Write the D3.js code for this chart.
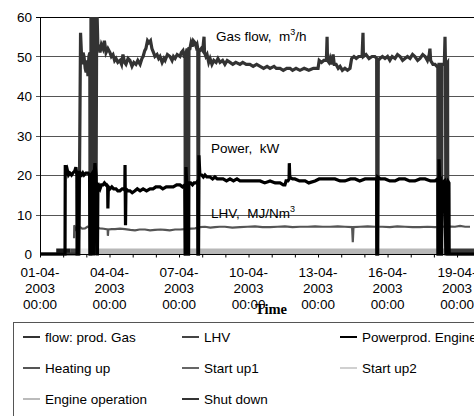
<!DOCTYPE html>
<html>
<head>
<meta charset="utf-8">
<script src="https://cdn.jsdelivr.net/npm/d3@7"></script>
<style>
  body { margin: 0; background: #fff; }
  svg { display: block; font-family: "Liberation Sans", Arial, sans-serif; }
</style>
</head>
<body>
<div id="chart"></div>
<script>
// days since 01-04-2003 00:00, value
const gasFlow = [
  [0, 0], [1.68, 0], [1.73, 40], [1.75, 56], [1.81, 48], [1.86, 51], [1.9, 50], [1.95, 47], [1.99, 46],
  [2.03, 49], [2.07, 45], [2.11, 50], [2.15, 51], [2.16, 0], [2.19, 0], [2.2, 62], [2.23, 55], [2.25, 0],
  [2.28, 62], [2.32, 52], [2.36, 64], [2.41, 0], [2.45, 64], [2.5, 52], [2.55, 53], [2.59, 51],
  [2.65, 53], [2.72, 52], [2.78, 54], [2.85, 51], [2.93, 52], [3.02, 51], [3.08, 50], [3.15, 50.5],
  [3.22, 49], [3.28, 49.5], [3.36, 48.5], [3.45, 49], [3.52, 48], [3.58, 50.5], [3.65, 48.5], [3.71, 48],
  [3.8, 49.5], [3.88, 49], [3.97, 47.5], [4.05, 48.5], [4.14, 48], [4.22, 49], [4.32, 48],
  [4.4, 49.5], [4.45, 50], [4.52, 51.5], [4.57, 52], [4.64, 54], [4.7, 53.5], [4.77, 54], [4.83, 52],
  [4.9, 51], [4.96, 50], [5.05, 50.5], [5.12, 49.5], [5.18, 50], [5.27, 48.5], [5.35, 49.5], [5.4, 49],
  [5.5, 50.5], [5.61, 50], [5.7, 49], [5.76, 50], [5.83, 49.5], [5.92, 50.5], [6.04, 50], [6.1, 51],
  [6.17, 51.5], [6.22, 50], [6.26, 50], [6.27, 0], [6.29, 0], [6.31, 51], [6.35, 52], [6.38, 51], [6.39, 0],
  [6.41, 0], [6.43, 52], [6.47, 52], [6.52, 53.5], [6.58, 52.5], [6.62, 54], [6.69, 53.5], [6.74, 52.5],
  [6.78, 53], [6.81, 52], [6.82, 0], [6.84, 0], [6.86, 52], [6.9, 51.5], [6.96, 52], [7.02, 51.5],
  [7.08, 55], [7.1, 51], [7.16, 50], [7.21, 50.5], [7.28, 48.5], [7.34, 49.5], [7.42, 48], [7.5, 49],
  [7.6, 48.5], [7.68, 49.5], [7.77, 48.5], [7.88, 49], [7.98, 48], [8.08, 49], [8.2, 48.5], [8.32, 48],
  [8.45, 48.5], [8.63, 48], [8.75, 48.5], [8.9, 48], [9.06, 48], [9.2, 47.5], [9.35, 48], [9.5, 47.5],
  [9.65, 47], [9.8, 47.5], [9.93, 47], [10.1, 47.5], [10.2, 47], [10.36, 47], [10.5, 46.5], [10.65, 47],
  [10.79, 47], [10.9, 46.5], [11.05, 47], [11.22, 46.5], [11.4, 47], [11.6, 46.5], [11.8, 47], [12.0, 47],
  [12.05, 49], [12.15, 48.5], [12.25, 49], [12.36, 49], [12.39, 55], [12.41, 49], [12.47, 48.5],
  [12.52, 49.5], [12.58, 48], [12.65, 50.5], [12.7, 48], [12.78, 48], [12.87, 47], [12.95, 47.5],
  [13.05, 46.5], [13.16, 47], [13.27, 46.5], [13.38, 47], [13.45, 49.5], [13.55, 50], [13.65, 49.5],
  [13.75, 50], [13.81, 50], [13.9, 50], [13.94, 56], [13.96, 50], [14.07, 50.5], [14.2, 49.5],
  [14.33, 50], [14.45, 50], [14.53, 49.5], [14.54, 0], [14.58, 0], [14.6, 49], [14.67, 49.5], [14.78, 50],
  [14.89, 49.5], [15.0, 50], [15.1, 49], [15.2, 50], [15.32, 49.5], [15.43, 50.5], [15.54, 50],
  [15.65, 49], [15.75, 49.5], [15.86, 50], [15.97, 49.5], [16.08, 50.5], [16.18, 50], [16.3, 49],
  [16.4, 49.5], [16.52, 50.5], [16.62, 50], [16.72, 49], [16.8, 50.5], [16.83, 52], [16.86, 49],
  [16.96, 48], [17.05, 48], [17.13, 47.5], [17.17, 47.5], [17.18, 0], [17.2, 0], [17.22, 48], [17.28, 48],
  [17.31, 0], [17.33, 0], [17.35, 48], [17.45, 48], [17.48, 55], [17.5, 48], [17.52, 0], [17.53, 48],
  [17.59, 48.5], [17.6, 0], [20.5, 0]
];

const powerProd = [
  [0, 0], [1.08, 0], [1.09, 22.5], [1.13, 21], [1.17, 21.5], [1.23, 20], [1.29, 20.5], [1.36, 20],
  [1.42, 20.5], [1.5, 21], [1.55, 22], [1.59, 20], [1.6, 0], [1.65, 0], [1.7, 21], [1.73, 20.5],
  [1.8, 20], [1.85, 20.5], [1.9, 20], [1.98, 20.5], [2.07, 20.5], [2.14, 20], [2.16, 0], [2.18, 0],
  [2.2, 20], [2.26, 20.5], [2.29, 0], [2.31, 0], [2.35, 21], [2.37, 23], [2.42, 20], [2.46, 0], [2.48, 0],
  [2.5, 18], [2.55, 17], [2.59, 16.5], [2.65, 17.5], [2.72, 17.5], [2.78, 18], [2.85, 17.5],
  [2.92, 17], [2.93, 11.5], [2.95, 17], [3.02, 16.5], [3.1, 17], [3.18, 16.5], [3.28, 16.5], [3.36, 16],
  [3.45, 16], [3.55, 16.5], [3.63, 16.5], [3.66, 16], [3.67, 22.5], [3.69, 7.3], [3.71, 16.5],
  [3.8, 16], [3.88, 16], [3.98, 15.5], [4.1, 16], [4.2, 16.5], [4.32, 16], [4.45, 16.5], [4.6, 16],
  [4.75, 16.5], [4.88, 16.5], [5.0, 17], [5.18, 17], [5.3, 16.5], [5.45, 17], [5.61, 17], [5.75, 17],
  [5.9, 17.5], [6.04, 17.5], [6.15, 17], [6.25, 17.5], [6.27, 0], [6.29, 0], [6.3, 22], [6.33, 18],
  [6.38, 18], [6.39, 0], [6.41, 0], [6.42, 18], [6.5, 18], [6.58, 17.5], [6.65, 18], [6.74, 18],
  [6.81, 18.5], [6.82, 0], [6.84, 0], [6.86, 25], [6.9, 20], [6.98, 20], [7.05, 19.5], [7.12, 20],
  [7.2, 19.5], [7.34, 19.5], [7.45, 19], [7.55, 19.5], [7.65, 19], [7.77, 19], [7.9, 19], [8.05, 18.5],
  [8.2, 19], [8.35, 18.5], [8.5, 19], [8.63, 18.5], [8.8, 18.5], [9.06, 18.5], [9.25, 18.5], [9.5, 18.5],
  [9.7, 18], [9.93, 18.5], [10.15, 18], [10.36, 18], [10.5, 17.5], [10.57, 17.5], [10.62, 18.5],
  [10.7, 18.5], [10.75, 19], [10.76, 23], [10.78, 19.5], [10.9, 19], [11.0, 19], [11.2, 18.5],
  [11.44, 18.5], [11.6, 18], [11.87, 18.5], [12.05, 19], [12.3, 19], [12.5, 19], [12.73, 19],
  [12.95, 18.5], [13.16, 18.5], [13.4, 19], [13.6, 19], [13.8, 18.5], [14.03, 19], [14.25, 19],
  [14.5, 19], [14.53, 19], [14.54, 0], [14.56, 0], [14.58, 19.5], [14.7, 19], [14.89, 19], [15.1, 18.5],
  [15.32, 18.5], [15.5, 19], [15.75, 19], [15.95, 18.5], [16.18, 18.5], [16.4, 19], [16.62, 19],
  [16.85, 18.5], [17.05, 18.5], [17.17, 19], [17.18, 0], [17.2, 0], [17.22, 24], [17.25, 18],
  [17.3, 18.5], [17.31, 0], [17.33, 0], [17.35, 18], [17.45, 18.5], [17.52, 0], [17.54, 0],
  [17.56, 18], [17.6, 18.5], [17.65, 18], [17.66, 0], [20.5, 0]
];

const lhv = [
  [1.47, 4], [1.48, 7.3], [1.52, 6.5], [1.55, 6.2], [1.6, 6.8], [1.73, 6.8], [1.82, 6.4], [1.94, 6.5],
  [2.05, 6.9], [2.16, 6.8], [2.27, 6.4], [2.37, 6.2], [2.48, 6.6], [2.59, 6.5], [2.75, 6.4], [2.92, 6.2],
  [2.93, 4.6], [2.95, 6.2], [3.1, 6.3], [3.24, 6.3], [3.45, 6.4], [3.67, 6.3], [3.9, 6.1], [4.1, 6.0],
  [4.3, 6.2], [4.53, 6.2], [4.75, 6.0], [4.96, 6.1], [5.2, 6.2], [5.4, 6.1], [5.6, 6.0], [5.83, 6.2],
  [6.05, 6.2], [6.26, 6.3], [6.5, 6.4], [6.69, 6.5], [6.9, 6.8], [7.12, 6.9], [7.35, 6.7], [7.55, 6.8],
  [7.75, 6.9], [7.98, 6.9], [8.3, 6.7], [8.63, 6.8], [8.95, 6.9], [9.28, 7.0], [9.6, 6.8], [9.93, 6.8],
  [10.25, 6.9], [10.57, 7.0], [10.9, 6.8], [11.22, 6.9], [11.55, 6.9], [11.87, 7.0], [12.2, 6.9],
  [12.52, 6.9], [12.85, 7.0], [13.16, 6.9], [13.47, 6.8], [13.5, 3.0], [13.53, 6.8], [13.81, 6.9],
  [14.14, 7.0], [14.46, 6.9], [14.78, 6.9], [15.1, 6.8], [15.42, 7.0], [15.75, 6.9], [16.08, 6.8],
  [16.4, 6.8], [16.72, 6.9], [17.05, 6.8], [17.3, 6.9], [17.57, 7.0], [17.91, 6.9], [18.13, 7.1],
  [18.35, 6.9], [18.56, 6.9]
];

// operating phases: [from day, to day]
const phaseNames = ["Heating up", "Start up1", "Start up2", "Engine operation", "Shut down"];
const phaseSpans = [
  [[0.7, 1.3]],
  [[1.3, 1.72], [2.16, 2.5]],
  [[1.72, 2.16]],
  [[2.5, 6.27], [6.41, 6.82], [6.86, 17.18], [17.33, 17.52]],
  [[6.27, 6.41], [6.82, 6.86], [17.18, 17.33], [17.54, 20.5]]
];
const phaseColors = ["#1a1a1a", "#4a4a4a", "#e8e8e8", "#b8b8b8", "#3a3a3a"];

const yTicks = [0, 10, 20, 30, 40, 50, 60];
const xTickDays = [0, 3, 6, 9, 12, 15, 18];

const legendItems = [
  ["flow: prod. Gas", "#333"], ["LHV", "#444"], ["Powerprod. Engine", "#000"],
  ["Heating up", "#555"], ["Start up1", "#666"], ["Start up2", "#d0d0d0"],
  ["Engine operation", "#bbb"], ["Shut down", "#333"]
];

const width = 474, height = 416;
const mLeft = 40, mTop = 17, mBottom = 254;
const t0 = new Date(2003, 3, 1);
const day = d => d3.timeMinute.offset(t0, Math.round(d * 1440));

const x = d3.scaleTime().domain([t0, day(20)]).range([mLeft, mLeft + 23.17 * 20]);
const y = d3.scaleLinear().domain([0, 60]).range([mBottom, mTop]);

const svg = d3.select('#chart').append('svg')
  .attr('width', width)
  .attr('height', height);

// gridlines
svg.append('g')
  .selectAll('line')
  .data(yTicks.filter(v => v > 0))
  .join('line')
  .attr('x1', mLeft - 4).attr('x2', width)
  .attr('y1', d => Math.round(y(d)) + 0.5).attr('y2', d => Math.round(y(d)) + 0.5)
  .attr('stroke', d => d === 60 ? '#000' : '#555')
  .attr('stroke-width', 1);

// y tick labels
svg.append('g')
  .selectAll('text')
  .data(yTicks)
  .join('text')
  .attr('x', mLeft - 8)
  .attr('y', d => y(d) + 5)
  .attr('text-anchor', 'end')
  .attr('font-size', '13.5px')
  .text(d => d);

svg.append('defs').append('clipPath').attr('id', 'plotclip')
  .append('rect').attr('x', mLeft).attr('y', mTop).attr('width', width - mLeft).attr('height', mBottom - mTop + 3);

const plot = svg.append('g').attr('clip-path', 'url(#plotclip)');

// phase bands near zero
phaseSpans.forEach((spans, i) => {
  plot.append('g')
    .selectAll('line')
    .data(spans)
    .join('line')
    .attr('x1', d => x(day(d[0]))).attr('x2', d => x(day(d[1])))
    .attr('y1', y(0.7)).attr('y2', y(0.7))
    .attr('stroke', phaseColors[i])
    .attr('stroke-width', 5.5);
});

const line = d3.line()
  .x(d => x(day(d[0])))
  .y(d => y(d[1]));

plot.append('path').datum(lhv)
  .attr('d', line).attr('fill', 'none')
  .attr('stroke', '#555').attr('stroke-width', 2.2);

plot.append('path').datum(gasFlow)
  .attr('d', line).attr('fill', 'none')
  .attr('stroke', '#333').attr('stroke-width', 3.2);

plot.append('path').datum(powerProd)
  .attr('d', line).attr('fill', 'none')
  .attr('stroke', '#000').attr('stroke-width', 3.2);

// axes lines
svg.append('line')
  .attr('x1', mLeft + 0.5).attr('x2', mLeft + 0.5)
  .attr('y1', mTop).attr('y2', mBottom)
  .attr('stroke', '#000');

const xAxis = svg.append('g')
  .attr('transform', `translate(0,${mBottom + 0.5})`)
  .call(d3.axisBottom(x).ticks(d3.timeDay.every(1)).tickSize(3).tickFormat(''));
xAxis.select('.domain').attr('d', `M${mLeft},0H${width}`).attr('stroke', '#000');
xAxis.selectAll('.tick line').attr('stroke', '#000');

const xl = svg.append('g')
  .selectAll('text')
  .data(xTickDays)
  .join('text')
  .attr('text-anchor', 'middle')
  .attr('font-size', '13.5px')
  .attr('transform', d => `translate(${x(day(d))},0)`);
xl.each(function(d) {
  const t = d3.timeFormat('%d-%m-')(day(d));
  const g = d3.select(this);
  g.append('tspan').attr('x', 0).attr('y', 277).text(t);
  g.append('tspan').attr('x', 0).attr('y', 293).text('2003');
  g.append('tspan').attr('x', 0).attr('y', 309).text('00:00');
});

svg.append('text')
  .attr('x', 271).attr('y', 314)
  .attr('text-anchor', 'middle')
  .attr('font-family', '"Liberation Serif", "Times New Roman", serif')
  .attr('font-weight', 'bold')
  .attr('font-size', '14.5px')
  .text('Time');

// series labels
function seriesLabel(px, py, main, sup, tail) {
  const t = svg.append('text').attr('x', px).attr('y', py).attr('font-size', '13.5px');
  t.append('tspan').text(main);
  if (sup) {
    t.append('tspan').attr('dy', -6).attr('font-size', '9px').text(sup);
    t.append('tspan').attr('dy', 6).text(tail || '');
  }
}
seriesLabel(216, 41, 'Gas flow,\u00a0\u00a0m', '3', '/h');
seriesLabel(211, 153, 'Power,\u00a0\u00a0kW');
seriesLabel(211, 218, 'LHV,\u00a0\u00a0MJ/Nm', '3');

// legend
const lg = svg.append('g');
lg.append('rect')
  .attr('x', 13.5).attr('y', 322.5)
  .attr('width', 500).attr('height', 120)
  .attr('fill', '#fff').attr('stroke', '#555');

const colX = [23, 182, 340];
const rowY = [337, 368, 399];
legendItems.forEach((it, i) => {
  const cx = colX[i % 3], cy = rowY[Math.floor(i / 3)];
  lg.append('line')
    .attr('x1', cx).attr('x2', cx + 17)
    .attr('y1', cy).attr('y2', cy)
    .attr('stroke', it[1]).attr('stroke-width', 2);
  lg.append('text')
    .attr('x', cx + 22).attr('y', cy + 5)
    .attr('font-size', '13.5px')
    .text(it[0]);
});
</script>
</body>
</html>
